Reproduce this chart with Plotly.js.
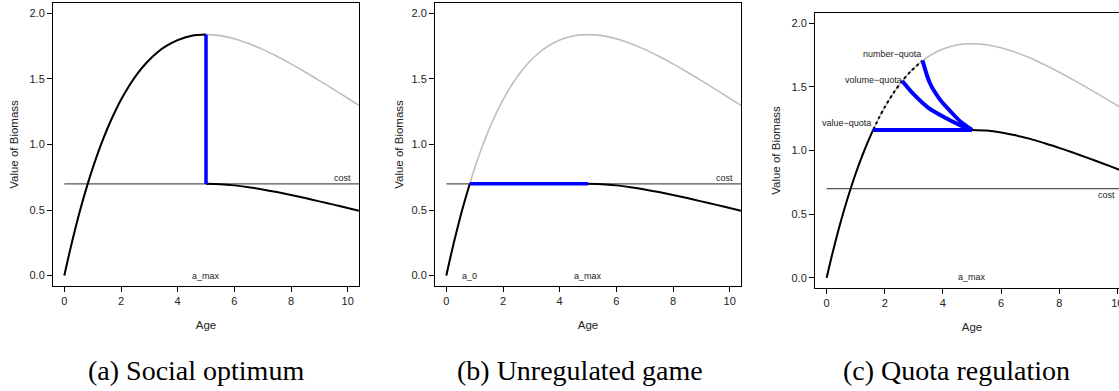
<!DOCTYPE html>
<html>
<head>
<meta charset="utf-8">
<script src="https://cdn.plot.ly/plotly-3.0.1.min.js"></script>
<style>
html,body{margin:0;padding:0;overflow:hidden;background:#fff;}
#chart{width:1140px;height:391px;}
</style>
</head>
<body>
<div id="chart"></div>
<script>
// Age grid and value of biomass of an unharvested cohort
const ages = [0, 0.2, 0.4, 0.6, 0.83, 1.0, 1.2, 1.4, 1.6, 1.8, 2.0, 2.3, 2.6, 2.9, 3.3, 3.6, 4.0, 4.5, 5.0, 5.5, 6.0, 6.5, 7.0, 7.5, 8.0, 8.5, 9.0, 9.5, 10.0, 10.4];
const biomassValue = [0, 0.192, 0.369, 0.532, 0.703, 0.819, 0.944, 1.058, 1.162, 1.256, 1.341, 1.452, 1.546, 1.624, 1.706, 1.752, 1.797, 1.830, 1.839, 1.831, 1.807, 1.771, 1.726, 1.673, 1.615, 1.553, 1.488, 1.421, 1.353, 1.299];

// Remaining value after harvest at a_max
const afterAges = [5.0, 5.5, 6.0, 6.5, 7.0, 7.5, 8.0, 8.5, 9.0, 9.5, 10.0, 10.4];
const afterValueAB = [0.700, 0.697, 0.688, 0.674, 0.657, 0.637, 0.615, 0.591, 0.566, 0.541, 0.515, 0.494];
const afterValueC = [1.162, 1.157, 1.142, 1.119, 1.091, 1.057, 1.021, 0.981, 0.940, 0.898, 0.855, 0.821];

const costLevel = 0.70;
const aMax = 5.0;
const a0 = 0.83;
const valueQuotaAge = 1.6;
const volumeQuotaAge = 2.6;
const numberQuotaAge = 3.3;

// Quota-regulation harvesting paths
const volumeAges = [2.6, 3.0, 3.5, 4.1, 4.6, 5.0];
const volumeValues = [1.546, 1.44, 1.335, 1.255, 1.197, 1.162];
const numberAges = [3.3, 3.55, 3.9, 4.25, 4.6, 5.0];
const numberValues = [1.706, 1.53, 1.40, 1.31, 1.228, 1.162];

const xTicks = [0, 2, 4, 6, 8, 10];
const yTicks = [0, 0.5, 1.0, 1.5, 2.0];
const captions = ['(a) Social optimum', '(b) Unregulated game', '(c) Quota regulation'];

function seg(lo, hi) {
  const x = [], y = [];
  ages.forEach((a, i) => { if (a >= lo - 1e-9 && a <= hi + 1e-9) { x.push(a); y.push(biomassValue[i]); } });
  return {x, y};
}
function valueAt(a) { return biomassValue[ages.indexOf(a)]; }

const GRAY = '#bebebe', BLACK = '#000', BLUE = '#0000ff', COST = '#555';
const traces = [];
function add(ax, x, y, color, width, extra) {
  const t = {type: 'scatter', mode: 'lines', x, y, xaxis: 'x' + (ax === 1 ? '' : ax), yaxis: 'y' + (ax === 1 ? '' : ax),
    line: Object.assign({color, width, shape: 'spline', smoothing: 0.8}, extra || {}), hoverinfo: 'skip', showlegend: false};
  traces.push(t);
}
const full = seg(0, 10.4);
for (let p = 1; p <= 3; p++) {
  add(p, [0, 10.4], [costLevel, costLevel], COST, 1.2, {shape: 'linear'});
  add(p, full.x, full.y, GRAY, 1.6);
}
// (a) social optimum
let s = seg(0, aMax); add(1, s.x, s.y, BLACK, 2);
add(1, afterAges, afterValueAB, BLACK, 2);
add(1, [aMax, aMax], [costLevel, valueAt(aMax)], BLUE, 3.5, {shape: 'linear'});
// (b) unregulated game
s = seg(0, a0); add(2, s.x, s.y, BLACK, 2);
add(2, afterAges, afterValueAB, BLACK, 2);
add(2, [a0, aMax], [costLevel, costLevel], BLUE, 3.5, {shape: 'linear'});
// (c) quota regulation
s = seg(0, valueQuotaAge); add(3, s.x, s.y, BLACK, 2);
s = seg(valueQuotaAge, numberQuotaAge); add(3, s.x, s.y, BLACK, 2, {dash: 'dot'});
add(3, afterAges, afterValueC, BLACK, 2);
add(3, [valueQuotaAge, aMax], [valueAt(valueQuotaAge), valueAt(valueQuotaAge)], BLUE, 4, {shape: 'linear'});
add(3, volumeAges, volumeValues, BLUE, 4);
add(3, numberAges, numberValues, BLUE, 4);

const W = 1140, H = 391;
const boxes = [
  {l: 53, r: 359, t: 3, b: 286},
  {l: 435, r: 741, t: 3, b: 286},
  {l: 815, r: 1129, t: 13, b: 288}
];
const tickFont = {family: 'Liberation Sans, Arial, sans-serif', size: 11, color: '#222'};
const titleFont = {family: 'Liberation Sans, Arial, sans-serif', size: 11.5, color: '#222'};
const layout = {
  width: W, height: H, margin: {l: 0, r: 0, t: 0, b: 0},
  paper_bgcolor: '#fff', plot_bgcolor: '#fff', showlegend: false,
  annotations: []
};
boxes.forEach((bx, i) => {
  const n = i === 0 ? '' : String(i + 1);
  const common = {showline: true, mirror: true, linecolor: '#000', linewidth: 1, ticks: 'outside', ticklen: 5,
    tickwidth: 1, tickcolor: '#000', showgrid: false, zeroline: false, tickfont: tickFont, fixedrange: true};
  layout['xaxis' + n] = Object.assign({}, common, {
    domain: [bx.l / W, bx.r / W], anchor: 'y' + n, range: [-0.4, 10.4], tickvals: xTicks,
    title: {text: 'Age', font: titleFont, standoff: 14}
  });
  layout['yaxis' + n] = Object.assign({}, common, {
    domain: [1 - bx.b / H, 1 - bx.t / H], anchor: 'x' + n, range: [-0.08, 2.08], tickvals: yTicks,
    tickformat: '.1f', title: {text: 'Value of Biomass', font: titleFont, standoff: i === 1 ? 5 : 8}
  });
});
function note(ax, x, y, text, xanchor) {
  const n = ax === 1 ? '' : String(ax);
  layout.annotations.push({xref: 'x' + n, yref: 'y' + n, x, y, text, showarrow: false,
    xanchor: xanchor || 'center', yanchor: 'middle',
    font: {family: 'Liberation Sans, Arial, sans-serif', size: 9, color: '#222'}});
}
note(1, aMax, 0, 'a_max'); note(1, 9.8, 0.745, 'cost');
note(2, a0, 0, 'a_0'); note(2, aMax, 0, 'a_max'); note(2, 9.8, 0.745, 'cost');
note(3, aMax, 0.01, 'a_max'); note(3, 9.64, 0.653, 'cost');
note(3, valueQuotaAge, 1.216, 'value−quota', 'right');
note(3, volumeQuotaAge + 0.07, 1.556, 'volume−quota', 'right');
note(3, numberQuotaAge, 1.757, 'number−quota', 'right');
const capX = [196, 580, 957];
captions.forEach((c, i) => {
  layout.annotations.push({xref: 'paper', yref: 'paper', x: capX[i] / W, y: 1 - 370 / H, text: c, showarrow: false,
    xanchor: 'center', yanchor: 'middle', font: {family: 'Liberation Serif, Times New Roman, serif', size: 28, color: '#000'}});
});
Plotly.newPlot('chart', traces, layout, {displayModeBar: false, staticPlot: true});
</script>
</body>
</html>
